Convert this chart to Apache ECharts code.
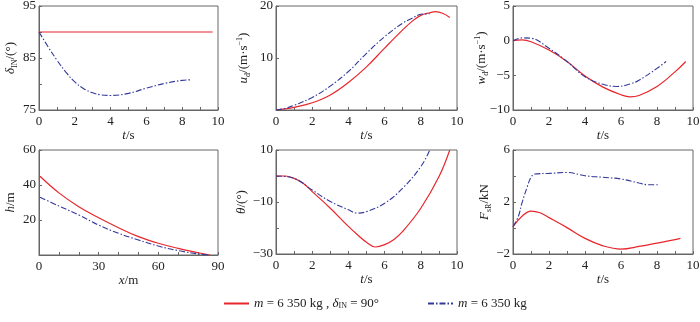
<!DOCTYPE html>
<html>
<head>
<meta charset="utf-8">
<script src="https://cdn.jsdelivr.net/npm/echarts@6/dist/echarts.min.js"></script>
<style>
  html, body { margin: 0; padding: 0; background: #fff; }
  #chart { width: 700px; height: 322px; }
</style>
</head>
<body>
<div id="chart"></div>
<script>
// 曲线数据
const legendNames = ['caseA', 'caseB'];

// δIN - t
const redDeltaT = [0, 9.7];
const redDelta = [90, 90];
const blueDeltaT = [0, 0.5, 1, 1.5, 2, 2.5, 3, 3.5, 4, 5, 6, 7, 8, 8.5];
const blueDelta = [90, 87.2, 84.6, 82.3, 80.4, 79.1, 78.3, 77.9, 77.8, 78.2, 79.2, 80.1, 80.7, 80.8];

// ud - t
const redUT = [0, 0.5, 1, 2, 3, 4, 5, 6, 7, 7.5, 8, 8.5, 8.8, 9.2, 9.6];
const redU = [0, 0.2, 0.5, 1.4, 2.9, 5.3, 8.3, 11.9, 15.4, 17, 18.2, 18.7, 18.9, 18.6, 17.8];
const blueUT = [0, 0.5, 1, 2, 3, 4, 5, 6, 7, 7.5, 8, 8.5];
const blueU = [0, 0.3, 0.9, 2.4, 4.6, 7.4, 10.9, 14.1, 16.7, 17.6, 18.4, 18.5];

// wd - t
const redWT = [0, 0.5, 1, 2, 3, 4, 5, 6, 6.5, 7, 8, 9, 9.6];
const redW = [0, 0.1, -0.15, -1.35, -3, -5.1, -6.7, -7.8, -8.1, -7.9, -6.6, -4.5, -3];
const blueWT = [0, 0.5, 1, 2, 3, 4, 5, 5.8, 6.5, 7, 8, 8.5];
const blueW = [0, 0.4, 0.35, -1.1, -3, -5.2, -6.3, -6.6, -6.25, -5.7, -4, -3];

// h - x
const redX = [0.5, 10, 20, 30, 40, 50, 60, 70, 80, 86];
const redH = [45, 35.5, 27.6, 21.3, 15.6, 10.5, 6.7, 3.8, 1.3, 0];
const blueX = [0.5, 10, 20, 30, 40, 50, 60, 70, 80, 85];
const blueH = [33, 28, 22.9, 17.1, 12.4, 8.6, 5.1, 2.5, 0.6, 0];

// θ - t
const redThT = [0, 0.5, 1, 1.5, 2, 3, 4, 4.5, 5, 5.5, 6, 6.5, 7, 8, 9, 9.6];
const redTh = [0, 0, -0.9, -2.8, -6, -12.4, -19.4, -22.6, -25.5, -27.3, -26.4, -24.5, -21.3, -12.4, -0.3, 10];
const blueThT = [0, 1, 2, 3, 4, 4.5, 5, 6, 7, 8, 8.5];
const blueTh = [0, -0.9, -5.4, -9.8, -13, -14.3, -13.7, -10.5, -4.7, 3.6, 10];

// FsR - t
const redFT = [0, 0.5, 1, 1.5, 2, 3, 4, 5, 6, 7, 8, 9, 9.3];
const redF = [0.1, 0.9, 1.3, 1.17, 0.8, 0.03, -0.8, -1.37, -1.62, -1.42, -1.16, -0.9, -0.8];
const blueFT = [0, 0.3, 0.5, 0.8, 1, 1.2, 2, 3, 4, 5, 6, 7, 7.5, 8.1];
const blueF = [0.1, 0.9, 1.93, 3.2, 3.9, 4.15, 4.2, 4.27, 4.02, 3.9, 3.77, 3.46, 3.33, 3.33];

const zip = (xs, ys) => xs.map((x, i) => [x, ys[i]]);

const FONT = '"Liberation Serif", "Times New Roman", serif';
const RED = '#e8262b';
const BLUE = '#33399a';
const BORDER = '#666';

const rich = {
  i: { fontStyle: 'italic', fontSize: 13, fontFamily: FONT, color: '#222' },
  sub: { fontSize: 8, fontFamily: FONT, color: '#222', verticalAlign: 'bottom' },
  sup: { fontSize: 8, fontFamily: FONT, color: '#222', verticalAlign: 'top' },
};

const grids = [
  { left: 39, top: 6, width: 179, height: 104 },
  { left: 276, top: 6, width: 181, height: 104 },
  { left: 513, top: 6, width: 180, height: 104 },
  { left: 39, top: 150, width: 179, height: 105 },
  { left: 276, top: 150, width: 181, height: 104 },
  { left: 513, top: 150, width: 180, height: 104 },
];

function xAxisOf(idx, max, interval, split, name) {
  return {
    type: 'value', gridIndex: idx, min: 0, max, interval,
    name, nameLocation: 'middle', nameGap: 19, nameMoveOverlap: false,
    nameTextStyle: { fontFamily: FONT, fontSize: 13, color: '#222', rich },
    axisLine: { show: true, onZero: false, lineStyle: { color: BORDER } },
    axisTick: { show: true, inside: true, length: 3, lineStyle: { color: BORDER } },
    minorTick: { show: true, splitNumber: split, length: 3, lineStyle: { color: BORDER } },
    axisLabel: { fontFamily: FONT, fontSize: 13, color: '#222', margin: 5 },
    splitLine: { show: false },
  };
}

function yAxisOf(idx, min, max, interval, shown, name, gap) {
  return {
    type: 'value', gridIndex: idx, min, max, interval,
    name, nameLocation: 'middle', nameRotate: 90, nameGap: gap, nameMoveOverlap: false,
    nameTextStyle: { fontFamily: FONT, fontSize: 13, color: '#222', lineHeight: 16, rich },
    axisLine: { show: true, onZero: false, lineStyle: { color: BORDER } },
    axisTick: { show: true, inside: true, length: 3, lineStyle: { color: BORDER } },
    axisLabel: {
      fontFamily: FONT, fontSize: 13, color: '#222', margin: 3,
      formatter: v => (shown.indexOf(v) >= 0 ? String(v).replace('-', '\u2212') : ''),
    },
    splitLine: { show: false },
  };
}

function line(name, idx, data, color, dashed) {
  return {
    name, type: 'line', xAxisIndex: idx, yAxisIndex: idx,
    data, smooth: 0.4, symbol: 'none', animation: false,
    lineStyle: dashed
      ? { color, width: 1.1, type: [6, 2, 1.5, 2] }
      : { color, width: 1.2 },
    itemStyle: { color },
  };
}

const legendBase = {
  itemWidth: 25, itemHeight: 12, itemGap: 4, top: 292,
  itemStyle: { opacity: 0, color: 'transparent', borderWidth: 0 },
  textStyle: { fontFamily: FONT, fontSize: 13, color: '#222', rich },
};

const myChart = echarts.init(document.getElementById('chart'));
const option = {
  backgroundColor: '#fff',
  animation: false,
  grid: grids.map(g => Object.assign({
    show: true, borderColor: BORDER, borderWidth: 1, backgroundColor: 'transparent',
    containLabel: false, outerBoundsMode: 'none',
  }, g)),
  xAxis: [
    xAxisOf(0, 10, 2, 2, '{i|t}/s'),
    xAxisOf(1, 10, 2, 2, '{i|t}/s'),
    xAxisOf(2, 10, 2, 2, '{i|t}/s'),
    xAxisOf(3, 90, 30, 3, '{i|x}/m'),
    xAxisOf(4, 10, 2, 2, '{i|t}/s'),
    xAxisOf(5, 10, 2, 2, '{i|t}/s'),
  ],
  yAxis: [
    yAxisOf(0, 75, 95, 5, [75, 85, 95], '{i|δ}{sub|IN}/(°)', 20),
    yAxisOf(1, 0, 20, 10, [10, 20], '{i|u}{sub|d}/(m·s{sup|−1})', 24),
    yAxisOf(2, -10, 5, 5, [-10, -5, 0, 5], '{i|w}{sub|d}/(m·s{sup|−1})', 23),
    yAxisOf(3, 0, 60, 20, [20, 40, 60], '{i|h}/m', 20),
    yAxisOf(4, -30, 10, 10, [-30, -10, 10], '{i|θ}/(°)', 26),
    yAxisOf(5, -2, 6, 2, [-2, 2, 6], '{i|F}{sub|sR}/kN', 20),
  ],
  legend: [
    Object.assign({}, legendBase, {
      data: [legendNames[0]], left: 218,
      formatter: () => '{i|m} = 6 350 kg , {i|δ}{sub|IN} = 90°',
    }),
    Object.assign({}, legendBase, {
      data: [legendNames[1]], left: 422,
      formatter: () => '{i|m} = 6 350 kg',
    }),
  ],
  series: [
    line(legendNames[0], 0, zip(redDeltaT, redDelta), RED, false),
    line(legendNames[1], 0, zip(blueDeltaT, blueDelta), BLUE, true),
    line(legendNames[0], 1, zip(redUT, redU), RED, false),
    line(legendNames[1], 1, zip(blueUT, blueU), BLUE, true),
    line(legendNames[0], 2, zip(redWT, redW), RED, false),
    line(legendNames[1], 2, zip(blueWT, blueW), BLUE, true),
    line(legendNames[0], 3, zip(redX, redH), RED, false),
    line(legendNames[1], 3, zip(blueX, blueH), BLUE, true),
    line(legendNames[0], 4, zip(redThT, redTh), RED, false),
    line(legendNames[1], 4, zip(blueThT, blueTh), BLUE, true),
    line(legendNames[0], 5, zip(redFT, redF), RED, false),
    line(legendNames[1], 5, zip(blueFT, blueF), BLUE, true),
  ],
};
myChart.setOption(option);
</script>
</body>
</html>
